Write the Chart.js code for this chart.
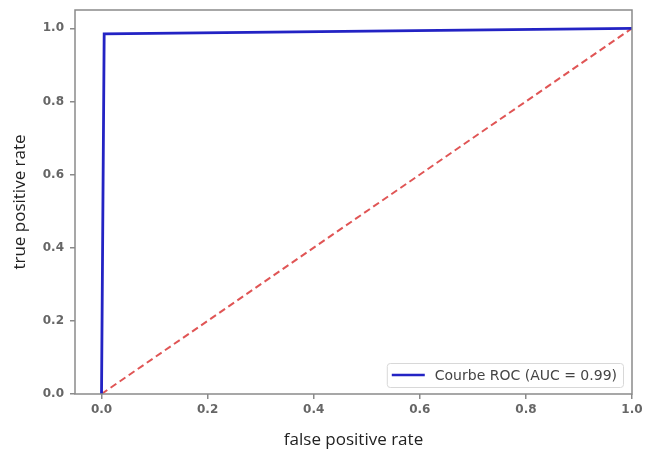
<!DOCTYPE html>
<html>
<head>
<meta charset="utf-8">
<script src="https://cdn.jsdelivr.net/npm/chart.js@4/dist/chart.umd.min.js"></script>
<style>
  html, body { margin: 0; padding: 0; background: #fff; }
  canvas { display: block; }
</style>
</head>
<body>
<canvas id="rocChart" width="655" height="452"></canvas>
<script>
// ROC curve points
const fpr = [0.0, 0.005, 1.0];
const tpr = [0.0, 0.985, 1.0];
// chance line
const diagX = [0.0, 1.0];
const diagY = [0.0, 1.0];

const xTicks = [0.0, 0.2, 0.4, 0.6, 0.8, 1.0];
const yTicks = [0.0, 0.2, 0.4, 0.6, 0.8, 1.0];

const rocLabel = 'Courbe ROC (AUC = 0.99)';

function toPoints(xs, ys) {
  return xs.map(function (x, i) { return { x: x, y: ys[i] }; });
}

const tickFont = { family: 'DejaVu Sans', size: 12, weight: 'bold' };
const titleFont = { family: 'Open Sans', size: 17 };

// box round the plot area
const framePlugin = {
  id: 'frame',
  afterDraw: function (chart) {
    const a = chart.chartArea;
    const ctx = chart.ctx;
    ctx.save();
    ctx.strokeStyle = '#8a8a8a';
    ctx.lineWidth = 1.5;
    ctx.strokeRect(a.left, a.top, a.right - a.left, a.bottom - a.top);
    ctx.restore();
  }
};

// legend box in the lower right corner
const cornerLegend = {
  id: 'cornerLegend',
  afterDraw: function (chart) {
    const a = chart.chartArea;
    const ctx = chart.ctx;
    const ds = chart.data.datasets[0];
    ctx.save();
    ctx.font = '14px "DejaVu Sans"';
    const tw = ctx.measureText(ds.label).width;
    const w = tw + 54, h = 24;
    const x = a.right - 9 - w, y = a.bottom - 7 - h;
    ctx.fillStyle = 'rgba(255,255,255,0.85)';
    ctx.strokeStyle = '#d8d8d8';
    ctx.lineWidth = 1;
    ctx.beginPath();
    ctx.roundRect(x + 0.5, y + 0.5, w, h, 3);
    ctx.fill();
    ctx.stroke();
    ctx.strokeStyle = ds.borderColor;
    ctx.lineWidth = 2.5;
    ctx.beginPath();
    ctx.moveTo(x + 5, y + h / 2);
    ctx.lineTo(x + 38, y + h / 2);
    ctx.stroke();
    ctx.fillStyle = '#444';
    ctx.textBaseline = 'middle';
    ctx.fillText(ds.label, x + 48, y + h / 2 + 1);
    ctx.restore();
  }
};

const config = {
  type: 'scatter',
  data: {
    datasets: [{
      label: rocLabel,
      data: toPoints(fpr, tpr),
      showLine: true,
      borderColor: '#2323c4',
      borderWidth: 2.8,
      pointRadius: 0,
      tension: 0
    }, {
      label: 'hasard',
      data: toPoints(diagX, diagY),
      showLine: true,
      borderColor: '#e05555',
      borderWidth: 2,
      borderDash: [7, 4],
      pointRadius: 0,
      tension: 0
    }]
  },
  options: {
    responsive: false,
    animation: false,
    layout: { padding: { top: 10, right: 23, left: 0, bottom: 0 } },
    plugins: {
      legend: { display: false },
      tooltip: { enabled: false }
    },
    scales: {
      x: {
        type: 'linear',
        min: -0.05,
        max: 1.0,
        afterBuildTicks: function (axis) {
          axis.ticks = xTicks.map(function (v) { return { value: v }; });
        },
        afterFit: function (axis) {
          axis.height = 58;
          axis.paddingLeft = 0;
          axis.paddingRight = 0;
        },
        border: { display: false },
        grid: { drawOnChartArea: false, drawTicks: true, tickLength: 5, color: '#8a8a8a', lineWidth: 1.5 },
        ticks: {
          font: tickFont,
          color: '#666',
          padding: 4,
          maxRotation: 0,
          callback: function (v) { return v.toFixed(1); }
        },
        title: {
          display: true,
          text: 'false positive rate',
          font: titleFont,
          color: '#222',
          padding: { top: 0, bottom: 2 }
        }
      },
      y: {
        type: 'linear',
        min: 0.0,
        max: 1.05,
        afterBuildTicks: function (axis) {
          axis.ticks = yTicks.map(function (v) { return { value: v }; });
        },
        afterFit: function (axis) {
          axis.width = 75;
          axis.paddingTop = 0;
          axis.paddingBottom = 0;
        },
        border: { display: false },
        grid: { drawOnChartArea: false, drawTicks: true, tickLength: 5, color: '#8a8a8a', lineWidth: 1.5 },
        ticks: {
          font: tickFont,
          color: '#666',
          padding: 6,
          callback: function (v) { return v.toFixed(1); }
        },
        title: {
          display: true,
          text: 'true positive rate',
          font: titleFont,
          color: '#222',
          padding: { top: 10, bottom: 0 }
        }
      }
    }
  },
  plugins: [framePlugin, cornerLegend]
};

const rocChart = new Chart(document.getElementById('rocChart'), config);
</script>
</body>
</html>
